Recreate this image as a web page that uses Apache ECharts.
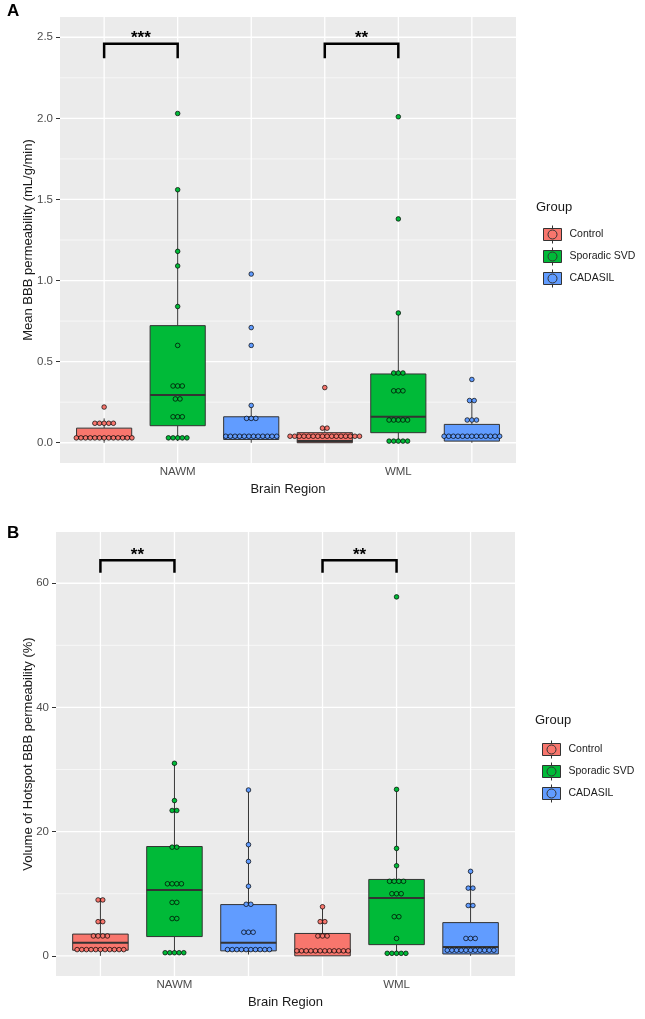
<!DOCTYPE html>
<html>
<head>
<meta charset="utf-8">
<script src="https://cdn.jsdelivr.net/npm/echarts@6/dist/echarts.min.js"></script>
<style>
    html, body { margin: 0; padding: 0; background: #fff; }
    #chart { width: 645px; height: 1019px; }
</style>
</head>
<body>
<div id="chart"></div>
<script>
var regions = ['NAWM', 'WML'];
var groups = ['Control', 'Sporadic SVD', 'CADASIL'];

// Panel A - mean BBB permeability (mL/g/min)
// boxes: one row per region, [min, q1, median, q3, max]
var meanBoxControl = [[0.0, 0.025, 0.035, 0.09, 0.15], [0.0, 0.0, 0.01, 0.062, 0.09]];
var meanBoxSvd = [[0.01, 0.105, 0.295, 0.722, 1.56], [0.0, 0.062, 0.16, 0.424, 0.80]];
var meanBoxCadasil = [[0.0, 0.02, 0.04, 0.16, 0.23], [0.0, 0.01, 0.04, 0.113, 0.26]];

var meanDotsControl = [
    [0.22, 0.12, 0.12, 0.12, 0.12, 0.12,
        0.03, 0.03, 0.03, 0.03, 0.03, 0.03, 0.03, 0.03, 0.03, 0.03, 0.03, 0.03, 0.03],
    [0.34, 0.09, 0.09,
        0.04, 0.04, 0.04, 0.04, 0.04, 0.04, 0.04, 0.04, 0.04, 0.04, 0.04, 0.04, 0.04, 0.04, 0.04, 0.04]
];
var meanDotsSvd = [
    [2.03, 1.56, 1.18, 1.09, 0.84, 0.60, 0.35, 0.35, 0.35, 0.27, 0.27, 0.16, 0.16, 0.16,
        0.03, 0.03, 0.03, 0.03, 0.03],
    [2.01, 1.38, 0.80, 0.43, 0.43, 0.43, 0.32, 0.32, 0.32, 0.14, 0.14, 0.14, 0.14, 0.14,
        0.01, 0.01, 0.01, 0.01, 0.01]
];
var meanDotsCadasil = [
    [1.04, 0.71, 0.60, 0.23, 0.15, 0.15, 0.15,
        0.04, 0.04, 0.04, 0.04, 0.04, 0.04, 0.04, 0.04, 0.04, 0.04, 0.04, 0.04],
    [0.39, 0.26, 0.26, 0.14, 0.14, 0.14,
        0.04, 0.04, 0.04, 0.04, 0.04, 0.04, 0.04, 0.04, 0.04, 0.04, 0.04, 0.04, 0.04]
];
var meanTicks = [0, 0.5, 1, 1.5, 2, 2.5];
var meanMinor = [0.25, 0.75, 1.25, 1.75, 2.25];
var meanSignif = ['***', '**'];
var meanBracket = [2.46, 2.37];   // bar, leg end

// Panel B - volume of hotspot BBB permeability (%)
var hotBoxControl = [[0, 0.9, 2.1, 3.5, 9.3], [0, 0, 0.7, 3.6, 7.9]];
var hotBoxSvd = [[0.5, 3.1, 10.6, 17.6, 31.0], [0.3, 1.8, 9.3, 12.3, 26.8]];
var hotBoxCadasil = [[0.2, 0.8, 2.1, 8.25, 26.7], [0, 0.3, 1.4, 5.35, 13.6]];

var hotDotsControl = [
    [9.0, 9.0, 5.5, 5.5, 3.2, 3.2, 3.2, 3.2,
        1.0, 1.0, 1.0, 1.0, 1.0, 1.0, 1.0, 1.0, 1.0, 1.0, 1.0],
    [7.9, 5.5, 5.5, 3.2, 3.2, 3.2,
        0.8, 0.8, 0.8, 0.8, 0.8, 0.8, 0.8, 0.8, 0.8, 0.8, 0.8, 0.8]
];
var hotDotsSvd = [
    [31.0, 25.0, 23.4, 23.4, 17.5, 17.5, 11.6, 11.6, 11.6, 11.6, 8.6, 8.6, 6.0, 6.0,
        0.5, 0.5, 0.5, 0.5, 0.5],
    [57.8, 26.8, 17.3, 14.5, 12.0, 12.0, 12.0, 12.0, 10.0, 10.0, 10.0, 6.3, 6.3, 2.8,
        0.4, 0.4, 0.4, 0.4, 0.4]
];
var hotDotsCadasil = [
    [26.7, 17.9, 15.2, 11.2, 8.3, 8.3, 3.8, 3.8, 3.8,
        1.0, 1.0, 1.0, 1.0, 1.0, 1.0, 1.0, 1.0, 1.0, 1.0],
    [13.6, 10.9, 10.9, 8.1, 8.1, 2.8, 2.8, 2.8,
        0.9, 0.9, 0.9, 0.9, 0.9, 0.9, 0.9, 0.9, 0.9, 0.9, 0.9]
];
var hotTicks = [0, 20, 40, 60];
var hotMinor = [10, 30, 50];
var hotSignif = ['**', '**'];
var hotBracket = [63.7, 61.7];

var colors = ['#F8766D', '#00BA38', '#619CFF'];
var font = 'Liberation Sans, Arial, sans-serif';
var boxWidth = 0.75;
var dotStep = 0.063;
var legendIcon = 'path://M0,3H18V15H0Z M9,0V3 M9,15V18 M13.5,9A4.5,4.5,0,1,1,4.5,9A4.5,4.5,0,1,1,13.5,9Z';

function position(r, g) {
    return r * 3 + g + 1;
}

// geom_dotplot style: equal values are stacked side by side around the group centre
function stackDots(values, pos) {
    var counts = {}, seen = {};
    values.forEach(function (v) { counts[v] = (counts[v] || 0) + 1; });
    return values.map(function (v) {
        var i = seen[v] || 0;
        seen[v] = i + 1;
        return [pos + (i - (counts[v] - 1) / 2) * dotStep, v];
    });
}

function renderBox(params, api) {
    var x = api.value(0);
    var pMin = api.coord([x, api.value(1)]);
    var pQ1 = api.coord([x, api.value(2)]);
    var pMed = api.coord([x, api.value(3)]);
    var pQ3 = api.coord([x, api.value(4)]);
    var pMax = api.coord([x, api.value(5)]);
    var l = api.coord([x - boxWidth / 2, 0])[0];
    var r = api.coord([x + boxWidth / 2, 0])[0];
    var stroke = '#333333';
    return {
        type: 'group',
        children: [
            {type: 'line', shape: {x1: pMax[0], y1: pMax[1], x2: pQ3[0], y2: pQ3[1]}, style: {stroke: stroke, lineWidth: 1}},
            {type: 'line', shape: {x1: pMin[0], y1: pMin[1], x2: pQ1[0], y2: pQ1[1]}, style: {stroke: stroke, lineWidth: 1}},
            {type: 'rect', shape: {x: l, y: pQ3[1], width: r - l, height: pQ1[1] - pQ3[1]},
                style: {fill: api.visual('color'), stroke: stroke, lineWidth: 1}},
            {type: 'line', shape: {x1: l, y1: pMed[1], x2: r, y2: pMed[1]}, style: {stroke: stroke, lineWidth: 2}}
        ]
    };
}

// panel grid lines: [x, y, vertical?, major?]
function renderGridLine(params, api) {
    var cs = params.coordSys;
    var p = api.coord([api.value(0), api.value(1)]);
    var w = api.value(3) ? 1.3 : 0.6;
    var shape = api.value(2)
        ? {x1: p[0], y1: cs.y, x2: p[0], y2: cs.y + cs.height}
        : {x1: cs.x, y1: p[1], x2: cs.x + cs.width, y2: p[1]};
    return {type: 'line', shape: shape, style: {stroke: '#ffffff', lineWidth: w}};
}

function makeBracketRenderer(labels) {
    return function (params, api) {
        var a = api.coord([api.value(0), api.value(2)]);
        var b = api.coord([api.value(1), api.value(2)]);
        var leg = api.coord([api.value(0), api.value(3)])[1];
        return {
            type: 'group',
            children: [
                {type: 'polyline', shape: {points: [[a[0], leg], a, b, [b[0], leg]]},
                    style: {stroke: '#000', lineWidth: 2.5, fill: null, lineJoin: 'miter'}},
                {type: 'text', style: {text: labels[params.dataIndex], x: (a[0] + b[0]) / 2, y: a[1] - 5,
                    align: 'center', verticalAlign: 'middle', fill: '#000', font: 'bold 17px ' + font}}
            ]
        };
    };
}

function panelSeries(gridIndex, boxes, dots, ticks, minor, signif, bracket) {
    var list = [];
    var lines = [];
    ticks.forEach(function (v) { lines.push([1, v, 0, 1]); });
    minor.forEach(function (v) { lines.push([1, v, 0, 0]); });
    for (var p = 1; p <= 6; p++) lines.push([p, 0, 1, 1]);
    list.push({
        type: 'custom', xAxisIndex: gridIndex, yAxisIndex: gridIndex, z: 1, silent: true,
        renderItem: renderGridLine, data: lines
    });
    groups.forEach(function (name, g) {
        list.push({
            name: name, type: 'custom', xAxisIndex: gridIndex, yAxisIndex: gridIndex, z: 2,
            itemStyle: {color: colors[g]},
            encode: {x: 0, y: [1, 2, 3, 4, 5]},
            renderItem: renderBox,
            data: boxes[g].map(function (b, r) { return [position(r, g)].concat(b); })
        });
    });
    groups.forEach(function (name, g) {
        var pts = [];
        dots[g].forEach(function (vals, r) { pts = pts.concat(stackDots(vals, position(r, g))); });
        list.push({
            name: name, type: 'scatter', xAxisIndex: gridIndex, yAxisIndex: gridIndex, z: 3,
            symbolSize: 4.6,
            itemStyle: {color: colors[g], borderColor: '#000', borderWidth: 0.7, opacity: 1},
            data: pts
        });
    });
    list.push({
        type: 'custom', xAxisIndex: gridIndex, yAxisIndex: gridIndex, z: 4, silent: true,
        renderItem: makeBracketRenderer(signif),
        data: regions.map(function (name, r) {
            return [position(r, 0), position(r, 1), bracket[0], bracket[1]];
        })
    });
    return list;
}

function xAxisFor(gridIndex) {
    return {
        type: 'value', gridIndex: gridIndex, min: 0.4, max: 6.6,
        name: 'Brain Region', nameLocation: 'middle', nameGap: 20, nameMoveOverlap: false,
        nameTextStyle: {fontSize: 13, color: '#1a1a1a', fontFamily: font},
        axisLine: {show: false},
        axisTick: {show: true, length: 4, customValues: [2, 5], lineStyle: {color: '#333'}},
        axisLabel: {
            customValues: [2, 5], margin: 3, fontSize: 11.5, color: '#4D4D4D', fontFamily: font,
            formatter: function (v) { return regions[Math.round((v - 2) / 3)]; }
        },
        splitLine: {show: false}
    };
}

function yAxisFor(gridIndex, name, min, max, ticks, gap, digits) {
    return {
        type: 'value', gridIndex: gridIndex, min: min, max: max,
        name: name, nameLocation: 'middle', nameGap: gap, nameMoveOverlap: false,
        nameTextStyle: {fontSize: 13, color: '#1a1a1a', fontFamily: font},
        axisLine: {show: false},
        axisTick: {show: true, length: 4, customValues: ticks, lineStyle: {color: '#333'}},
        axisLabel: {
            customValues: ticks, margin: 7, fontSize: 11.5, color: '#4D4D4D', fontFamily: font,
            formatter: function (v) { return v.toFixed(digits); }
        },
        splitLine: {show: false}
    };
}

function legendFor(left, top) {
    return {
        data: groups, left: left, top: top, orient: 'vertical', selectedMode: false,
        icon: legendIcon, itemWidth: 18, itemHeight: 18, itemGap: 3,
        itemStyle: {borderColor: '#333', borderWidth: 1},
        textStyle: {fontSize: 10.5, color: '#1a1a1a', fontFamily: font, padding: [0, 0, 0, 3]}
    };
}

var chart = echarts.init(document.getElementById('chart'));
var option = {
    animation: false,
    backgroundColor: '#fff',
    title: [
        {text: 'A', left: 7, top: 3, padding: 0, textStyle: {fontSize: 17, fontWeight: 'bold', color: '#000', fontFamily: font}},
        {text: 'B', left: 7, top: 525, padding: 0, textStyle: {fontSize: 17, fontWeight: 'bold', color: '#000', fontFamily: font}},
        {text: 'Group', left: 536, top: 201, padding: 0, textStyle: {fontSize: 13, fontWeight: 'normal', color: '#1a1a1a', fontFamily: font}},
        {text: 'Group', left: 535, top: 714, padding: 0, textStyle: {fontSize: 13, fontWeight: 'normal', color: '#1a1a1a', fontFamily: font}}
    ],
    legend: [legendFor(538, 220), legendFor(537, 735)],
    grid: [
        {left: 60, top: 17, width: 456, height: 446, show: true, backgroundColor: '#EBEBEB', borderWidth: 0},
        {left: 56, top: 532, width: 459, height: 444, show: true, backgroundColor: '#EBEBEB', borderWidth: 0}
    ],
    xAxis: [xAxisFor(0), xAxisFor(1)],
    yAxis: [
        yAxisFor(0, 'Mean BBB permeability (mL/g/min)', -0.125, 2.625, meanTicks, 25, 1),
        yAxisFor(1, 'Volume of Hotspot BBB permeability (%)', -3.25, 68.25, hotTicks, 21, 0)
    ],
    series: panelSeries(0, [meanBoxControl, meanBoxSvd, meanBoxCadasil],
        [meanDotsControl, meanDotsSvd, meanDotsCadasil], meanTicks, meanMinor, meanSignif, meanBracket)
        .concat(panelSeries(1, [hotBoxControl, hotBoxSvd, hotBoxCadasil],
            [hotDotsControl, hotDotsSvd, hotDotsCadasil], hotTicks, hotMinor, hotSignif, hotBracket))
};
chart.setOption(option);
</script>
</body>
</html>
